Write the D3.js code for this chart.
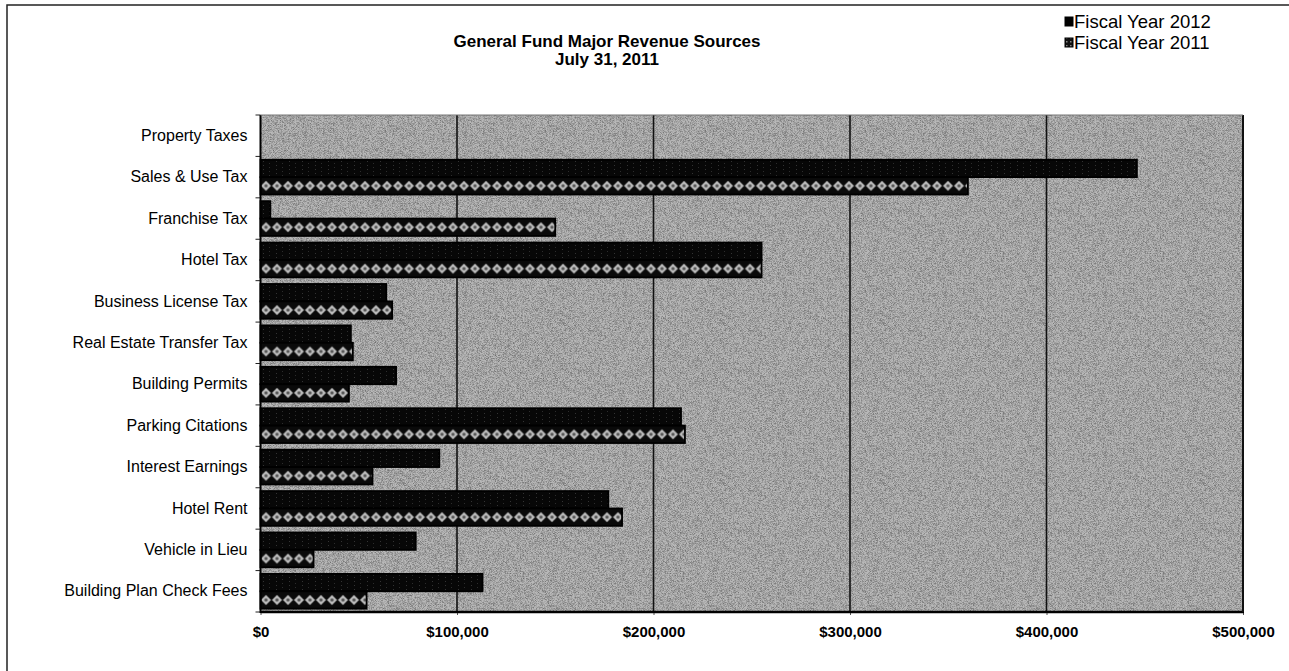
<!DOCTYPE html>
<html>
<head>
<meta charset="utf-8">
<script src="https://cdn.jsdelivr.net/npm/d3@7"></script>
<style>
  html, body { margin: 0; padding: 0; background: #fff; }
  svg { display: block; font-family: Arial, "Liberation Sans", sans-serif; }
</style>
</head>
<body>
<svg id="chart" width="1289" height="671"></svg>
<script>
// Revenue categories, top to bottom
const categories = [
  "Property Taxes", "Sales & Use Tax", "Franchise Tax", "Hotel Tax",
  "Business License Tax", "Real Estate Transfer Tax", "Building Permits",
  "Parking Citations", "Interest Earnings", "Hotel Rent",
  "Vehicle in Lieu", "Building Plan Check Fees"
];
// Year-to-date revenue, dollars
const fy2012 = [0, 446000, 5000, 255000, 64000, 46000, 69000, 214000, 91000, 177000, 79000, 113000];
const fy2011 = [0, 360000, 150000, 255000, 67000, 47000, 45000, 216000, 57000, 184000, 27000, 54000];
const seriesNames = ["Fiscal Year 2012", "Fiscal Year 2011"];
const xTicks = [0, 100000, 200000, 300000, 400000, 500000];
const titleLines = ["General Fund Major Revenue Sources", "July 31, 2011"];

const svg = d3.select("#chart");
const plot = { left: 260.5, right: 1243, top: 115, bottom: 612 };

const x = d3.scaleLinear().domain([0, 500000]).range([plot.left, plot.right]);
const y = d3.scaleBand().domain(categories).range([plot.top, plot.bottom]).paddingInner(0).paddingOuter(0);
const sub = d3.scaleBand().domain(seriesNames).range([0, y.bandwidth()]).paddingOuter(0.19).paddingInner(0);

const defs = svg.append("defs");

// grainy gray plot background
const noise = defs.append("filter").attr("id", "grain")
  .attr("x", 0).attr("y", 0).attr("width", "100%").attr("height", "100%");
noise.append("feTurbulence").attr("type", "fractalNoise")
  .attr("baseFrequency", 1.6).attr("numOctaves", 1).attr("seed", 5).attr("result", "t");
noise.append("feColorMatrix").attr("in", "t").attr("type", "matrix")
  .attr("values", "0 0 0 0 0  0 0 0 0 0  0 0 0 0 0  0 0 0 -2.2 1.35").attr("result", "dots");
noise.append("feComposite").attr("in", "dots").attr("in2", "SourceGraphic").attr("operator", "in");

// solid current-year fill with faint speckle
const p12 = defs.append("pattern").attr("id", "fill2012")
  .attr("patternUnits", "userSpaceOnUse").attr("width", 13).attr("height", 4);
p12.append("rect").attr("width", 13).attr("height", 4).attr("fill", "#070707");
p12.append("rect").attr("x", 3).attr("y", 1).attr("width", 1).attr("height", 1).attr("fill", "#333");
p12.append("rect").attr("x", 9).attr("y", 3).attr("width", 1).attr("height", 1).attr("fill", "#2c2c2c");

// diamond-chain fill for the prior year, one pattern per row so the chain stays centred in the bar
const barH = sub.bandwidth();
defs.selectAll("pattern.row11").data(categories).join("pattern")
  .attr("class", "row11")
  .attr("id", (d, i) => "fill2011-" + i)
  .attr("patternUnits", "userSpaceOnUse")
  .attr("width", 11).attr("height", barH)
  .attr("patternTransform", d => `translate(${plot.left},${y(d) + sub(seriesNames[1])})`)
  .each(function () {
    const p = d3.select(this);
    p.append("rect").attr("width", 11).attr("height", barH).attr("fill", "#0a0a0a");
    p.append("path")
      .attr("d", `M0.5,${barH / 2} L5.5,${barH / 2 - 5} L10.5,${barH / 2} L5.5,${barH / 2 + 5} Z`)
      .attr("fill", "#bdbdbd");
    p.append("circle").attr("cx", 5.5).attr("cy", barH / 2).attr("r", 1.7).attr("fill", "#555");
  });
// legend swatch pattern
const pl = defs.append("pattern").attr("id", "fill2011-legend")
  .attr("patternUnits", "userSpaceOnUse").attr("width", 4).attr("height", 4);
pl.append("rect").attr("width", 4).attr("height", 4).attr("fill", "#111");
pl.append("rect").attr("x", 1).attr("y", 1).attr("width", 1.5).attr("height", 1.5).attr("fill", "#888");

// page frame
svg.append("path").attr("d", "M7,700 L7,5 L1300,5")
  .attr("fill", "none").attr("stroke", "#222").attr("stroke-width", 1.5);

// plot background
svg.append("rect").attr("x", plot.left).attr("y", plot.top)
  .attr("width", plot.right - plot.left).attr("height", plot.bottom - plot.top)
  .attr("fill", "#b8b8b8");
svg.append("rect").attr("x", plot.left).attr("y", plot.top)
  .attr("width", plot.right - plot.left).attr("height", plot.bottom - plot.top)
  .attr("fill", "#e4e4e4").attr("opacity", 0.45).attr("filter", "url(#grain)");

// vertical gridlines
svg.append("g").selectAll("line").data(xTicks.slice(1)).join("line")
  .attr("x1", d => x(d)).attr("x2", d => x(d))
  .attr("y1", plot.top).attr("y2", plot.bottom)
  .attr("stroke", "#111").attr("stroke-width", 1.6);

// bars
const series = [
  { name: seriesNames[0], values: fy2012, fill: () => "url(#fill2012)" },
  { name: seriesNames[1], values: fy2011, fill: i => `url(#fill2011-${i})` }
];
const bars = svg.append("g");
series.forEach(s => {
  bars.append("g").selectAll("rect")
    .data(categories.map((c, i) => ({ c, i, v: s.values[i] })).filter(d => d.v > 0))
    .join("rect")
    .attr("x", x(0))
    .attr("y", d => y(d.c) + sub(s.name))
    .attr("width", d => x(d.v) - x(0))
    .attr("height", barH)
    .attr("fill", d => s.fill(d.i))
    .attr("stroke", "#000").attr("stroke-width", 1.8);
});

// axes
const yAxis = svg.append("g").attr("transform", `translate(${plot.left},0)`)
  .call(d3.axisLeft(y).tickSize(0).tickPadding(13));
yAxis.select(".domain").remove();
yAxis.selectAll("text").attr("font-size", 16).attr("fill", "#000")
  .attr("font-family", "Arial, 'Liberation Sans', sans-serif");
// tick marks at category boundaries
svg.append("g").selectAll("line").data(d3.range(categories.length + 1)).join("line")
  .attr("x1", plot.left - 5).attr("x2", plot.left)
  .attr("y1", i => plot.top + i * y.step()).attr("y2", i => plot.top + i * y.step())
  .attr("stroke", "#222").attr("stroke-width", 1);

const xAxis = svg.append("g").attr("transform", `translate(0,${plot.bottom})`)
  .call(d3.axisBottom(x).tickValues(xTicks).tickSize(3).tickPadding(11)
    .tickFormat(d => "$" + d3.format(",")(d)));
xAxis.select(".domain").remove();
xAxis.selectAll("line").attr("stroke", "#555");
xAxis.selectAll("text").attr("font-size", 15).attr("font-weight", "bold").attr("fill", "#000")
  .attr("font-family", "Arial, 'Liberation Sans', sans-serif");

// plot border: axis lines and right edge
svg.append("line").attr("x1", plot.left).attr("x2", plot.left).attr("y1", plot.top).attr("y2", plot.bottom + 1)
  .attr("stroke", "#000").attr("stroke-width", 2);
svg.append("line").attr("x1", plot.left).attr("x2", plot.right + 1).attr("y1", plot.bottom).attr("y2", plot.bottom)
  .attr("stroke", "#000").attr("stroke-width", 2.5);
svg.append("line").attr("x1", plot.right).attr("x2", plot.right).attr("y1", plot.top).attr("y2", plot.bottom)
  .attr("stroke", "#111").attr("stroke-width", 2);
svg.append("line").attr("x1", plot.left).attr("x2", plot.right).attr("y1", plot.top).attr("y2", plot.top)
  .attr("stroke", "#777").attr("stroke-width", 1);

// title
svg.append("g").selectAll("text").data(titleLines).join("text")
  .attr("x", 607).attr("y", (d, i) => 47 + i * 18)
  .attr("text-anchor", "middle").attr("font-size", 17).attr("font-weight", "bold")
  .text(d => d);

// legend
const legend = svg.append("g").attr("transform", "translate(1065,0)");
series.forEach((s, i) => {
  const g = legend.append("g").attr("transform", `translate(0,${23 + i * 21})`);
  g.append("rect").attr("x", 0).attr("y", -6).attr("width", 8).attr("height", 9)
    .attr("fill", i === 0 ? "#000" : "url(#fill2011-legend)").attr("stroke", "#000").attr("stroke-width", 1);
  g.append("text").attr("x", 9).attr("y", 5).attr("font-size", 18.5).text(s.name);
});
</script>
</body>
</html>
